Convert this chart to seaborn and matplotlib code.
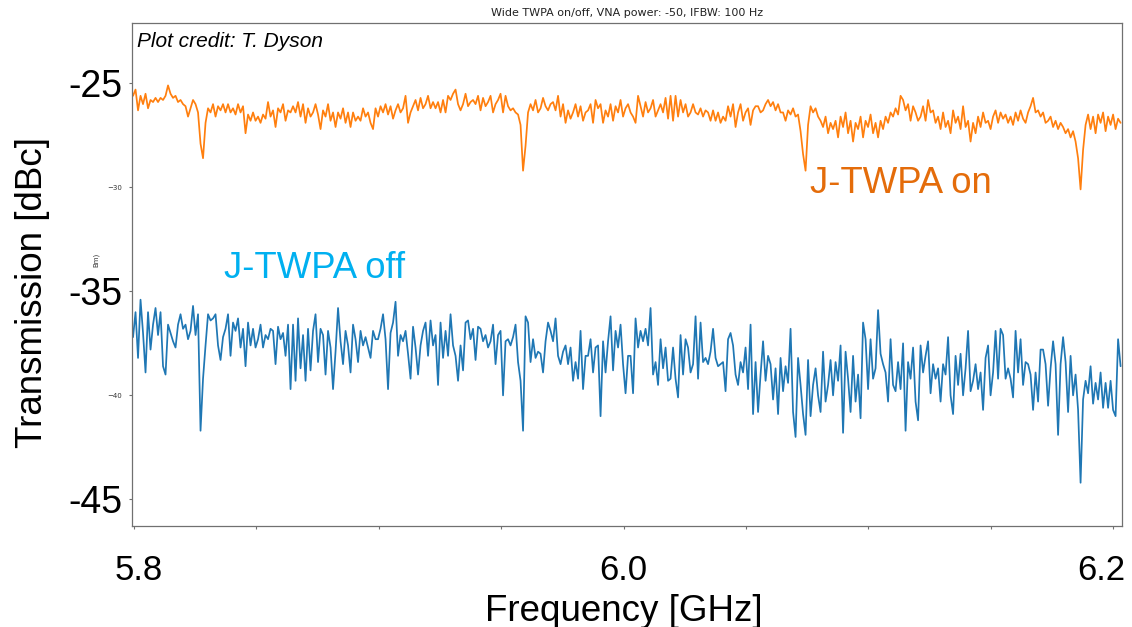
import numpy as np
import pandas as pd
import matplotlib
matplotlib.use("Agg")
import matplotlib.pyplot as plt
import matplotlib.transforms as mtrans
import seaborn as sns

# ---------------- data ----------------
FREQ_START_GHZ = 5.7996
FREQ_STOP_GHZ = 6.2031

twpa_on_dbc = [
    -25.6, -25.3, -26.3, -25.6, -26.0, -25.5, -26.2, -25.8, -25.9, -25.7,
    -25.9, -25.7, -25.8, -25.6, -25.1, -25.5, -25.7, -25.6, -25.9, -25.8,
    -26.0, -26.1, -26.6, -26.2, -25.8, -26.0, -26.4, -27.9, -28.6, -26.9,
    -26.2, -26.4, -26.0, -26.6, -26.1, -26.3, -26.0, -26.4, -26.0, -26.4,
    -26.2, -26.5, -26.0, -26.4, -26.1, -27.4, -26.5, -26.8, -26.4, -26.8,
    -26.6, -26.9, -26.5, -26.7, -25.9, -26.6, -26.3, -27.1, -26.2, -26.4,
    -26.0, -26.8, -26.3, -26.4, -26.1, -26.4, -25.9, -26.6, -26.0, -26.9,
    -26.2, -26.6, -26.4, -26.0, -26.5, -27.2, -26.3, -26.6, -26.0, -26.8,
    -26.4, -27.1, -26.4, -26.7, -26.2, -26.9, -26.4, -27.1, -26.4, -26.8,
    -26.6, -26.8, -26.2, -26.6, -26.4, -26.9, -27.2, -26.2, -26.6, -26.1,
    -26.4, -26.0, -26.5, -26.1, -26.7, -26.3, -26.0, -26.4, -26.2, -25.6,
    -26.9, -26.4, -26.1, -25.8, -26.3, -25.7, -26.2, -26.0, -25.6, -26.2,
    -25.9, -26.2, -25.9, -26.4, -25.8, -26.4, -25.6, -25.8, -25.5, -25.3,
    -26.0, -26.3, -26.0, -25.5, -26.1, -25.9, -25.8, -26.0, -25.6, -26.3,
    -25.7, -26.1, -25.9, -25.6, -26.4, -26.0, -25.8, -25.5, -26.4, -25.6,
    -26.1, -26.3, -26.2, -26.4, -26.5, -27.0, -29.2, -28.0, -26.4, -26.0,
    -26.3, -25.8, -26.4, -26.2, -25.7, -26.1, -26.3, -26.0, -25.9, -26.3,
    -25.6, -26.6, -26.0, -26.9, -26.3, -26.7, -26.4, -26.0, -26.6, -26.1,
    -26.8, -26.4, -26.3, -26.0, -26.9, -25.8, -26.2, -26.0, -26.9, -26.3,
    -26.6, -26.0, -26.8, -26.1, -26.4, -25.8, -26.6, -26.2, -26.0, -26.4,
    -26.6, -26.9, -25.6, -26.1, -26.6, -25.9, -26.4, -26.2, -25.8, -26.6,
    -26.3, -26.0, -26.4, -25.7, -26.7, -25.6, -26.8, -25.6, -26.6, -25.8,
    -26.4, -26.0, -26.6, -26.4, -26.0, -26.4, -26.5, -26.2, -26.6, -26.3,
    -26.4, -26.8, -26.3, -26.8, -26.4, -26.9, -26.6, -26.8, -26.1, -26.6,
    -26.0, -27.1, -26.4, -26.0, -26.8, -26.4, -26.2, -27.0, -26.3, -26.1,
    -26.1, -26.4, -26.3, -26.0, -25.8, -26.1, -25.9, -26.3, -26.0, -26.4,
    -26.4, -26.8, -26.3, -26.5, -26.2, -26.6, -26.5, -27.3, -28.4, -29.2,
    -27.0, -26.1, -26.4, -26.2, -26.6, -26.8, -27.1, -26.6, -27.4, -26.9,
    -27.2, -26.8, -27.6, -26.6, -27.1, -26.4, -27.4, -26.8, -27.8, -26.9,
    -27.2, -26.6, -27.6, -26.8, -27.1, -26.5, -27.4, -26.9, -27.6, -26.8,
    -27.2, -26.6, -26.9, -26.4, -26.6, -26.2, -26.5, -25.6, -25.8, -26.3,
    -26.0, -26.8, -26.1, -26.4, -26.8, -26.6, -26.1, -26.8, -25.8, -26.4,
    -26.3, -26.9, -26.6, -27.2, -26.4, -27.1, -26.8, -27.4, -26.3, -26.9,
    -26.6, -27.2, -26.1, -27.1, -26.8, -27.8, -26.9, -27.4, -26.6, -27.1,
    -26.4, -26.9, -26.8, -27.2, -26.6, -26.3, -26.9, -26.4, -26.7, -26.5,
    -26.9, -26.6, -27.0, -26.4, -26.8, -26.3, -26.7, -26.9, -26.4, -26.1,
    -25.7, -26.4, -26.3, -26.6, -26.4, -26.9, -26.8, -26.6, -27.1, -26.8,
    -27.2, -26.9, -27.1, -27.4, -27.2, -27.6, -27.3, -27.8, -28.6, -30.1,
    -28.2, -27.0, -26.5, -27.2, -26.6, -27.4, -26.5, -26.9, -26.4, -27.3,
    -26.6, -27.0, -26.5, -27.2, -26.7, -26.9,
]

twpa_off_dbc = [
    -37.2, -36.0, -38.2, -35.4, -37.0, -38.9, -36.0, -37.8, -36.6, -35.8,
    -37.1, -36.0, -38.6, -39.0, -36.6, -37.0, -37.4, -37.7, -36.6, -36.1,
    -36.8, -36.6, -37.3, -36.9, -35.7, -37.1, -36.1, -41.7, -39.2, -37.6,
    -36.1, -36.4, -36.3, -36.1, -37.6, -38.3, -37.2, -36.8, -36.1, -38.1,
    -36.5, -36.9, -36.3, -37.7, -36.8, -38.6, -36.5, -37.6, -36.8, -37.7,
    -37.3, -36.6, -37.7, -37.1, -37.3, -36.8, -36.9, -38.5, -36.7, -37.3,
    -37.0, -38.1, -36.6, -39.7, -36.6, -39.3, -36.3, -38.7, -37.1, -39.3,
    -36.8, -38.8, -36.9, -36.1, -38.4, -36.8, -37.1, -39.0, -36.9, -37.7,
    -39.7, -37.9, -35.8, -37.4, -38.5, -36.9, -37.6, -38.9, -36.6, -37.3,
    -38.4, -36.9, -37.6, -37.2, -37.7, -38.2, -36.9, -37.3, -37.3, -36.8,
    -36.1, -37.3, -39.7, -37.0, -36.5, -35.5, -38.1, -37.1, -37.4, -36.9,
    -38.0, -39.2, -36.7, -37.7, -39.0, -37.6, -36.9, -36.5, -38.1, -36.4,
    -37.6, -37.1, -39.5, -36.5, -38.2, -36.9, -38.1, -36.1, -37.6, -38.1,
    -39.3, -37.6, -38.8, -36.5, -36.4, -37.3, -36.8, -38.3, -36.7, -36.8,
    -37.4, -37.1, -37.7, -37.4, -36.6, -38.5, -37.1, -36.9, -40.0, -37.4,
    -37.3, -37.6, -37.2, -36.6, -38.4, -39.3, -41.7, -36.2, -36.5, -38.4,
    -37.3, -38.2, -37.9, -38.0, -38.9, -37.4, -36.5, -36.9, -37.4, -36.3,
    -38.1, -38.5, -37.9, -37.6, -38.5, -37.7, -39.3, -38.4, -39.2, -36.9,
    -39.7, -38.1, -38.1, -37.3, -38.9, -37.7, -37.6, -41.0, -37.4, -38.9,
    -37.4, -36.2, -38.8, -36.9, -37.7, -36.6, -38.5, -39.9, -38.1, -38.1,
    -39.9, -36.3, -37.7, -36.9, -37.4, -36.8, -37.6, -35.8, -39.0, -38.4,
    -39.5, -37.3, -38.7, -37.7, -39.3, -39.2, -37.7, -39.2, -40.1, -37.1,
    -39.0, -37.3, -37.7, -38.9, -38.5, -36.2, -39.2, -36.5, -38.4, -38.2,
    -38.5, -37.9, -36.8, -38.2, -38.6, -38.5, -38.4, -39.8, -37.3, -37.0,
    -37.6, -39.0, -39.5, -38.4, -38.9, -37.7, -39.7, -36.6, -40.9, -38.4,
    -40.8, -39.0, -37.4, -39.3, -38.1, -38.5, -40.2, -38.7, -40.9, -38.2,
    -39.8, -38.6, -39.4, -36.8, -40.8, -42.0, -38.2, -39.5, -40.9, -41.9,
    -38.3, -41.0, -39.5, -38.7, -40.0, -40.8, -37.9, -40.3, -39.5, -38.3,
    -40.0, -38.4, -39.3, -37.6, -41.8, -37.9, -39.2, -40.8, -38.1, -40.3,
    -39.0, -41.1, -36.5, -37.3, -39.7, -37.3, -39.2, -38.7, -35.9, -38.0,
    -38.5, -38.9, -40.3, -37.3, -39.5, -39.8, -38.4, -39.7, -37.5, -41.7,
    -38.4, -39.2, -37.7, -40.3, -41.2, -37.6, -38.9, -38.1, -37.4, -39.9,
    -38.5, -39.2, -38.7, -40.3, -38.5, -39.0, -37.2, -40.0, -40.9, -38.1,
    -39.5, -38.0, -40.0, -38.7, -36.9, -39.8, -39.3, -38.5, -39.7, -38.9,
    -40.7, -38.2, -37.6, -40.0, -38.9, -36.9, -39.2, -36.8, -37.1, -39.2,
    -38.7, -39.2, -40.1, -36.9, -38.9, -37.3, -39.5, -38.4, -38.5, -39.0,
    -40.7, -38.9, -40.3, -37.8, -37.8, -38.5, -40.5, -38.7, -37.4, -38.5,
    -41.9, -38.5, -37.2, -38.4, -40.8, -38.1, -40.0, -39.0, -40.7, -44.2,
    -40.2, -39.3, -39.9, -38.6, -40.4, -39.4, -40.2, -38.9, -40.6, -39.4,
    -40.6, -39.3, -40.7, -41.0, -37.3, -38.6,
]

y_ticks = [-45, -40, -35, -30, -25]
y_tick_labels = ["-45", "\u221240", "-35", "\u221230", "-25"]
y_big = [True, False, True, False, True]
x_major = [5.8, 6.0, 6.2]
x_major_labels = ["5.8", "6.0", "6.2"]
x_minor = [5.85, 5.9, 5.95, 6.05, 6.1, 6.15]

title = "Wide TWPA on/off, VNA power: -50, IFBW: 100 Hz"
xlabel = "Frequency [GHz]"
ylabel = "Transmission [dBc]"
credit = "Plot credit: T. Dyson"

freq = np.linspace(FREQ_START_GHZ, FREQ_STOP_GHZ, len(twpa_on_dbc))
df = pd.DataFrame({
    "freq": np.concatenate([freq, freq]),
    "S21": np.concatenate([twpa_on_dbc, twpa_off_dbc]),
    "state": ["on"] * len(freq) + ["off"] * len(freq),
})

# ---------------- style ----------------
sns.set_theme(style="white")
plt.rcParams["font.family"] = ["Liberation Sans", "DejaVu Sans"]

fig = plt.figure(figsize=(11.32, 6.27), dpi=100)
ax = fig.add_axes([132 / 1132, 1 - 526 / 627, 990 / 1132, 503 / 627])

sns.lineplot(data=df, x="freq", y="S21", hue="state",
             palette={"on": "#ff7f0e", "off": "#1f77b4"},
             estimator=None, sort=False, linewidth=1.25, legend=False, ax=ax)

ax.set_xlim(5.79918, 6.20368)
ax.set_ylim(-46.28, -22.10)

for sp in ax.spines.values():
    sp.set_color("#707070")
    sp.set_linewidth(0.9)

# y ticks: mix of big overlay labels and small original labels
ax.set_yticks(y_ticks)
ax.set_yticklabels(y_tick_labels)
for lbl, big in zip(ax.get_yticklabels(), y_big):
    if big:
        lbl.set_fontfamily("Liberation Sans")
        lbl.set_fontsize(27)
        lbl.set_color("black")
    else:
        lbl.set_fontfamily("DejaVu Sans")
        lbl.set_fontsize(5)
        lbl.set_color("#333333")

ax.set_xticks(x_major)
ax.set_xticklabels(x_major_labels, fontsize=25, color="black")
ax.set_xticks(x_minor, minor=True)
ax.tick_params(axis="both", which="both", direction="out", length=2.5,
               width=0.8, color="#707070", left=True, bottom=True)
ax.tick_params(axis="y", pad=4.5)
ax.tick_params(axis="x", which="major", pad=18)

# overlay labels sit slightly off the tick marks in the reference
x_label_shift_px = [5, 0, -12]
for lbl, dx in zip(ax.get_xticklabels(), x_label_shift_px):
    lbl.set_transform(lbl.get_transform()
                      + mtrans.ScaledTranslation(dx / 100, 0, fig.dpi_scale_trans))

ax.set_xlabel(xlabel, fontsize=26.5, color="black")
ax.xaxis.set_label_coords(0.497, -0.135)
ax.set_ylabel(ylabel, fontsize=26.5, color="black")
ax.yaxis.set_label_coords(-0.083, 0.465)

ax.text(0.005, 0.9523, credit, transform=ax.transAxes, fontsize=15,
        fontstyle="italic", color="black", ha="left", va="baseline")
ax.text(0.0929, 0.493, "J-TWPA off", transform=ax.transAxes, fontsize=26.3,
        color="#00b0f0", ha="left", va="baseline")
ax.text(0.685, 0.662, "J-TWPA on", transform=ax.transAxes, fontsize=26.3,
        color="#e46c0a", ha="left", va="baseline")

fig.text(627 / 1132, 1 - 13 / 627, title, fontsize=8, family="DejaVu Sans",
         color="#222222", ha="center", va="center")
fig.text(96 / 1132, 1 - 260 / 627, "Bm)", fontsize=5, family="DejaVu Sans",
         color="#333333", rotation=90, ha="center", va="center")

fig.savefig("out.png", dpi=100)
